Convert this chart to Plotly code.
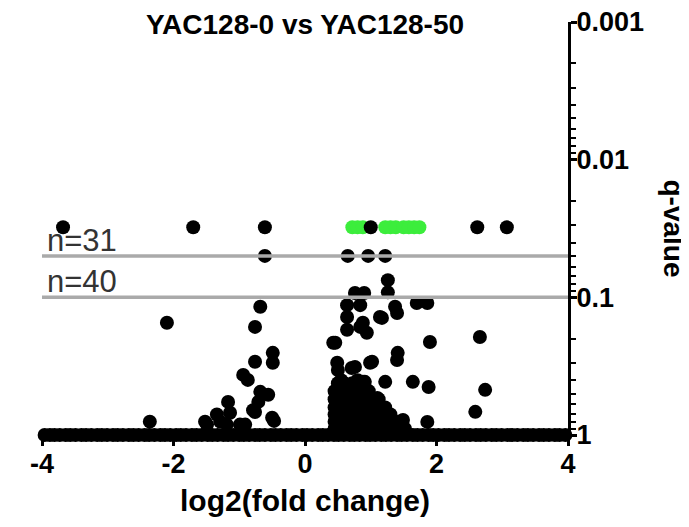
import math
import plotly.graph_objects as go

# ---- data (log2 fold change, q-value) ----
top_x = [-3.68, -1.70, -0.61, 1.00, 2.62, 3.07]
top_q = [0.031, 0.031, 0.031, 0.031, 0.031, 0.031]

green_x = [0.72, 0.80, 0.88, 1.22, 1.30, 1.38, 1.50, 1.58, 1.66, 1.74]
green_q = [0.031, 0.031, 0.031, 0.031, 0.031, 0.031, 0.031, 0.031, 0.031, 0.031]

scatter_x = [
    -0.61, 0.65, 0.96, 1.22,
    1.26, 1.26, 0.76, 0.90, 1.70, 1.86,
    -2.10, -0.68, -0.76, -0.49, -0.49, -0.76, -0.94, -0.87, -0.68, -0.56,
    -0.71, -0.76, -0.50, -1.17, -1.34, -1.52, -1.29, -0.99, -1.19, -2.36,
    -1.49, -1.14, -0.91, -0.79, -0.47,
    0.64, 0.84, 0.64, 1.14, 1.37, 1.40, 1.17, 0.84, 0.88, 0.94,
    0.43, 0.46, 1.90, 1.41, 1.40, 0.49, 0.50, 0.71, 0.76, 0.99,
    1.02, 0.88, 1.22, 1.64, 1.88, 1.10, 1.49, 1.86, 2.66, 2.74,
    2.59, 0.64, 0.91, 1.22, 0.55, 0.62, 0.80,
]
scatter_q = [
    0.050, 0.050, 0.050, 0.050,
    0.075, 0.092, 0.093, 0.093, 0.110, 0.110,
    0.153, 0.117, 0.164, 0.253, 0.299, 0.294, 0.366, 0.398, 0.486, 0.510,
    0.575, 0.680, 0.750, 0.575, 0.710, 0.800, 0.800, 0.840, 0.840, 0.800,
    0.840, 0.690, 0.840, 0.660, 0.790,
    0.114, 0.114, 0.139, 0.139, 0.117, 0.130, 0.141, 0.164, 0.153, 0.181,
    0.214, 0.214, 0.211, 0.253, 0.285, 0.299, 0.337, 0.326, 0.320, 0.299,
    0.294, 0.411, 0.411, 0.411, 0.448, 0.538, 0.777, 0.803, 0.194, 0.470,
    0.679, 0.172, 0.411, 0.658, 0.400, 0.430, 0.400,
]

# dense cluster of near-insignificant genes just right of zero
cluster_x = [
    0.50, 0.60, 0.72, 0.82,
    0.45, 0.55, 0.66, 0.77, 0.88, 0.97,
    0.45, 0.54, 0.63, 0.73, 0.83, 0.93, 1.04, 1.12,
    0.45, 0.55, 0.64, 0.74, 0.85, 0.95, 1.05, 1.15, 1.22,
    0.45, 0.54, 0.63, 0.73, 0.82, 0.92, 1.02, 1.12, 1.21, 1.30,
    0.45, 0.55, 0.64, 0.74, 0.84, 0.94, 1.04, 1.14, 1.24, 1.34, 1.43,
    0.45, 0.54, 0.64, 0.73, 0.83, 0.93, 1.03, 1.13, 1.23, 1.33, 1.42, 1.52,
]
cluster_q = (
    [0.42] * 4 + [0.48] * 6 + [0.55] * 8 + [0.63] * 9
    + [0.71] * 10 + [0.80] * 11 + [0.90] * 12
)

# genes with q = 1 spread over the whole fold-change range
band_x = [-3.96, -3.88, -3.81, -3.73, -3.64, -3.57, -3.49, -3.40, -3.33, -3.25,
          -3.16, -3.09, -3.01, -2.92, -2.85, -2.77, -2.68, -2.61, -2.53, -2.44,
          -2.37, -2.29, -2.20, -2.13, -2.05, -1.96, -1.89, -1.81, -1.72, -1.65,
          -1.57, -1.48, -1.41, -1.33, -1.24, -1.17, -1.09, -1.00, -0.93, -0.85,
          -0.76, -0.69, -0.61, -0.52, -0.45, -0.37, -0.28, -0.21, -0.13, -0.04,
          0.03, 0.11, 0.20, 0.27, 0.35, 0.44, 0.51, 0.59, 0.68, 0.75,
          0.83, 0.92, 0.99, 1.07, 1.16, 1.23, 1.31, 1.40, 1.47, 1.55,
          1.64, 1.71, 1.79, 1.88, 1.95, 2.03, 2.12, 2.19, 2.27, 2.36,
          2.43, 2.51, 2.60, 2.67, 2.75, 2.84, 2.91, 2.99, 3.08, 3.15,
          3.23, 3.32, 3.39, 3.47, 3.56, 3.63, 3.71, 3.80, 3.87, 3.96]
band_q = [1.0] * len(band_x)

thresholds = [0.05, 0.1]
threshold_labels = ["n=31", "n=40"]

x_ticks = [-4, -2, 0, 2, 4]
y_ticks = [0.001, 0.01, 0.1, 1]
y_ticklabels = ["0.001", "0.01", "0.1", "1"]
y_minor = [m * d for d in (0.001, 0.01, 0.1) for m in range(2, 10)]

FONT = "Arial, Liberation Sans, Helvetica, sans-serif"
MS = 14

fig = go.Figure()
fig.add_trace(go.Scatter(x=green_x, y=green_q, mode="markers",
                         marker=dict(color="#3ced3c", size=MS, line=dict(width=0)),
                         cliponaxis=False, showlegend=False))
all_x = band_x + cluster_x + scatter_x + top_x
all_q = band_q + cluster_q + scatter_q + top_q
fig.add_trace(go.Scatter(x=all_x, y=all_q, mode="markers",
                         marker=dict(color="black", size=MS, line=dict(width=0)),
                         cliponaxis=False, showlegend=False))
for t in thresholds:
    fig.add_trace(go.Scatter(x=[x_ticks[0], x_ticks[-1]], y=[t, t], mode="lines",
                             line=dict(color="#aaaaaa", width=3.5),
                             cliponaxis=False, showlegend=False, hoverinfo="skip"))

annotations = []
for t, lab in zip(thresholds, threshold_labels):
    annotations.append(dict(x=-3.95, y=math.log10(t), xref="x", yref="y",
                            text=lab, showarrow=False, xanchor="left", yanchor="bottom",
                            yshift=-4, font=dict(family=FONT, size=31, color="#333333")))
annotations.append(dict(x=0.5, y=1, xref="paper", yref="paper",
                        text="<b>YAC128-0 vs YAC128-50</b>", showarrow=False,
                        xanchor="center", yanchor="top", yshift=14, borderpad=0,
                        font=dict(family=FONT, size=28, color="black")))
annotations.append(dict(x=0.5, y=0, xref="paper", yref="paper",
                        text="<b>log2(fold change)</b>", showarrow=False,
                        xanchor="center", yanchor="middle", yshift=-65,
                        font=dict(family=FONT, size=30, color="black")))
annotations.append(dict(x=1, y=0.5, xref="paper", yref="paper",
                        text="<b>q-value</b>", showarrow=False, textangle=90,
                        xanchor="center", yanchor="middle", xshift=105,
                        font=dict(family=FONT, size=28, color="black")))

# page body adds an 8 px offset, so the figure is 8 px smaller on each side
fig.update_layout(
    width=681, height=519,
    margin=dict(l=34, r=121, t=14, b=92, autoexpand=False),
    paper_bgcolor="white", plot_bgcolor="white",
    showlegend=False,
    annotations=annotations,
    xaxis=dict(range=[-4, 4], tickvals=x_ticks, ticktext=[f"<b>{v}</b>" for v in x_ticks],
               automargin=False, ticklabelstandoff=-5, ticklabeloverflow="allow",
               showgrid=False, zeroline=False, showline=True, linecolor="black",
               linewidth=3, ticks="outside", ticklen=8, tickwidth=3, tickcolor="black",
               tickfont=dict(family=FONT, size=27, color="black")),
    yaxis=dict(type="log", range=[0, -3], side="right", tickvals=y_ticks,
               ticktext=[f"<b>{t}</b>" for t in y_ticklabels],
               automargin=False, ticklabelstandoff=-6, ticklabeloverflow="allow",
               showgrid=False, zeroline=False, showline=True, linecolor="black",
               linewidth=3, ticks="outside", ticklen=6, tickwidth=3, tickcolor="black",
               tickfont=dict(family=FONT, size=27, color="black"),
               minor=dict(tickvals=y_minor, ticks="outside", ticklen=5, tickwidth=2,
                          tickcolor="black", showgrid=False)),
)

fig.write_html("out.html")
